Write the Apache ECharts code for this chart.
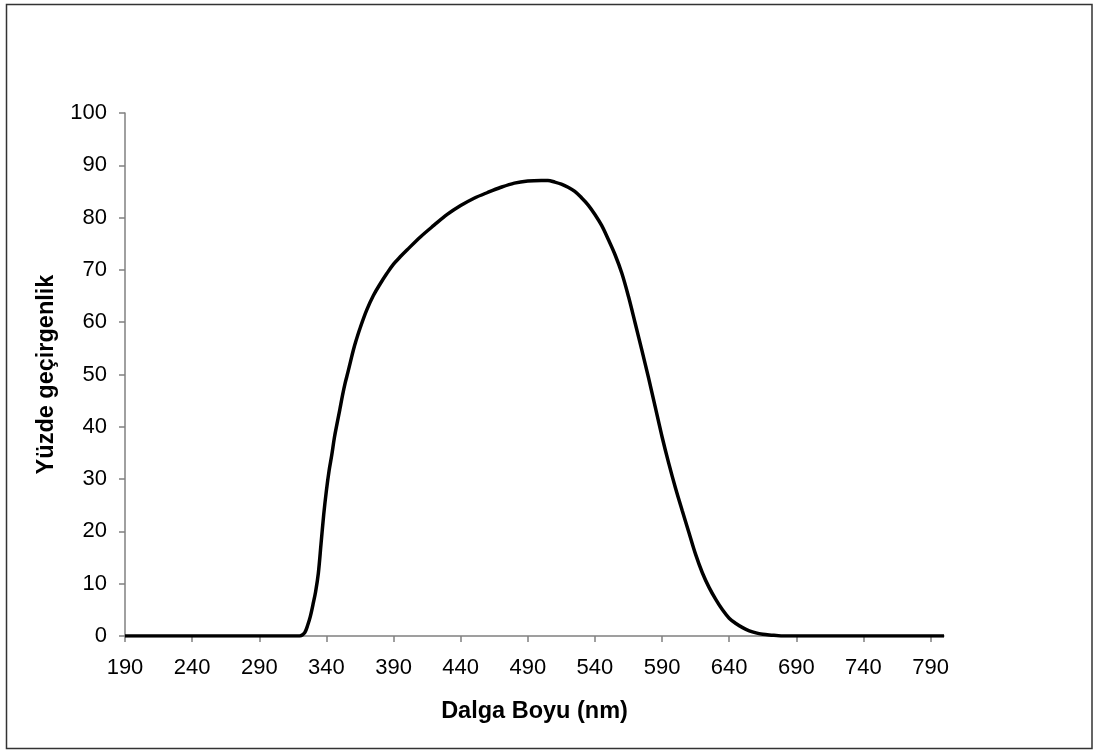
<!DOCTYPE html>
<html>
<head>
<meta charset="utf-8">
<script src="https://cdn.jsdelivr.net/npm/echarts@6/dist/echarts.min.js"></script>
<style>
  html, body { margin: 0; padding: 0; background: #ffffff; }
  #chart { width: 1095px; height: 751px; }
</style>
</head>
<body>
<div id="chart"></div>
<script>
// Transmission spectrum: wavelength (nm) against percent transmittance
const wavelengths = [
  190, 250, 300, 315, 320, 322, 324, 326, 328, 330, 332, 334, 336, 338, 340,
  342, 344, 346, 348, 350, 352, 354, 356, 358, 360, 362, 365, 370, 375, 380,
  385, 390, 395, 400, 410, 420, 430, 440, 450, 460, 470, 480, 490, 500, 505,
  510, 515, 520, 525, 530, 535, 540, 545, 550, 555, 560, 565, 570, 575, 580,
  585, 590, 595, 600, 605, 610, 615, 620, 625, 630, 635, 640, 645, 650, 655,
  660, 665, 670, 675, 680, 700, 750, 800
];
const transmittance = [
  0, 0, 0, 0, 0, 0.2, 0.7, 2.0, 3.7, 6.0, 8.5, 12.0, 17.6, 23.2, 27.8,
  31.6, 34.6, 38.0, 40.7, 43.3, 46.0, 48.4, 50.4, 52.5, 54.6, 56.4, 58.8, 62.3, 65.1, 67.3,
  69.3, 71.1, 72.5, 73.8, 76.3, 78.5, 80.6, 82.3, 83.7, 84.8, 85.8, 86.6, 87.0, 87.1, 87.1,
  86.8, 86.4, 85.8, 85.0, 83.8, 82.4, 80.6, 78.5, 75.8, 72.9, 69.4, 64.9, 59.8, 54.6, 49.3,
  43.7, 38.1, 33.0, 28.3, 24.0, 19.8, 15.6, 12.1, 9.3, 7.0, 5.0, 3.4, 2.4, 1.6, 1.0,
  0.6, 0.35, 0.2, 0.1, 0, 0, 0, 0
];
const xTickValues = [190, 240, 290, 340, 390, 440, 490, 540, 590, 640, 690, 740, 790];
const xTitle = 'Dalga Boyu (nm)';
const yTitle = 'Yüzde geçirgenlik';

const points = wavelengths.map((w, i) => [w, transmittance[i]]);

const FONT = '"Liberation Sans", Arial, sans-serif';
const axisGrey = '#808080';

const chart = echarts.init(document.getElementById('chart'), null, { renderer: 'canvas' });
chart.setOption({
  backgroundColor: '#ffffff',
  animation: false,
  grid: { left: 125, right: 151, top: 113, bottom: 115, containLabel: false },
  xAxis: {
    type: 'value',
    min: 190,
    max: 800,
    name: xTitle,
    nameLocation: 'middle',
    nameGap: 64,
    nameTextStyle: { fontFamily: FONT, fontSize: 23.5, fontWeight: 'bold', color: '#000' },
    axisLine: { show: true, onZero: false, lineStyle: { color: axisGrey, width: 1.5 } },
    axisTick: { show: true, inside: false, length: 6, lineStyle: { color: axisGrey, width: 1.5 },
                customValues: xTickValues },
    axisLabel: { fontFamily: FONT, fontSize: 22, color: '#000', margin: 21,
                 customValues: xTickValues, showMinLabel: true, showMaxLabel: true },
    splitLine: { show: false }
  },
  yAxis: {
    type: 'value',
    min: 0,
    max: 100,
    interval: 10,
    name: yTitle,
    nameLocation: 'middle',
    nameGap: 66,
    nameTextStyle: { fontFamily: FONT, fontSize: 23.5, fontWeight: 'bold', color: '#000' },
    axisLine: { show: true, lineStyle: { color: axisGrey, width: 1.5 } },
    axisTick: { show: true, inside: false, length: 6, lineStyle: { color: axisGrey, width: 1.5 } },
    axisLabel: { fontFamily: FONT, fontSize: 22, color: '#000', margin: 18 },
    splitLine: { show: false }
  },
  graphic: [
    {
      type: 'rect',
      silent: true,
      shape: { x: 6.5, y: 4.5, width: 1085.5, height: 744 },
      style: { fill: 'none', stroke: '#333333', lineWidth: 1.5 }
    }
  ],
  series: [
    {
      type: 'line',
      data: points,
      showSymbol: false,
      smooth: 0.35,
      lineStyle: { color: '#000000', width: 3.5 },
      clip: true
    }
  ]
});
</script>
</body>
</html>
